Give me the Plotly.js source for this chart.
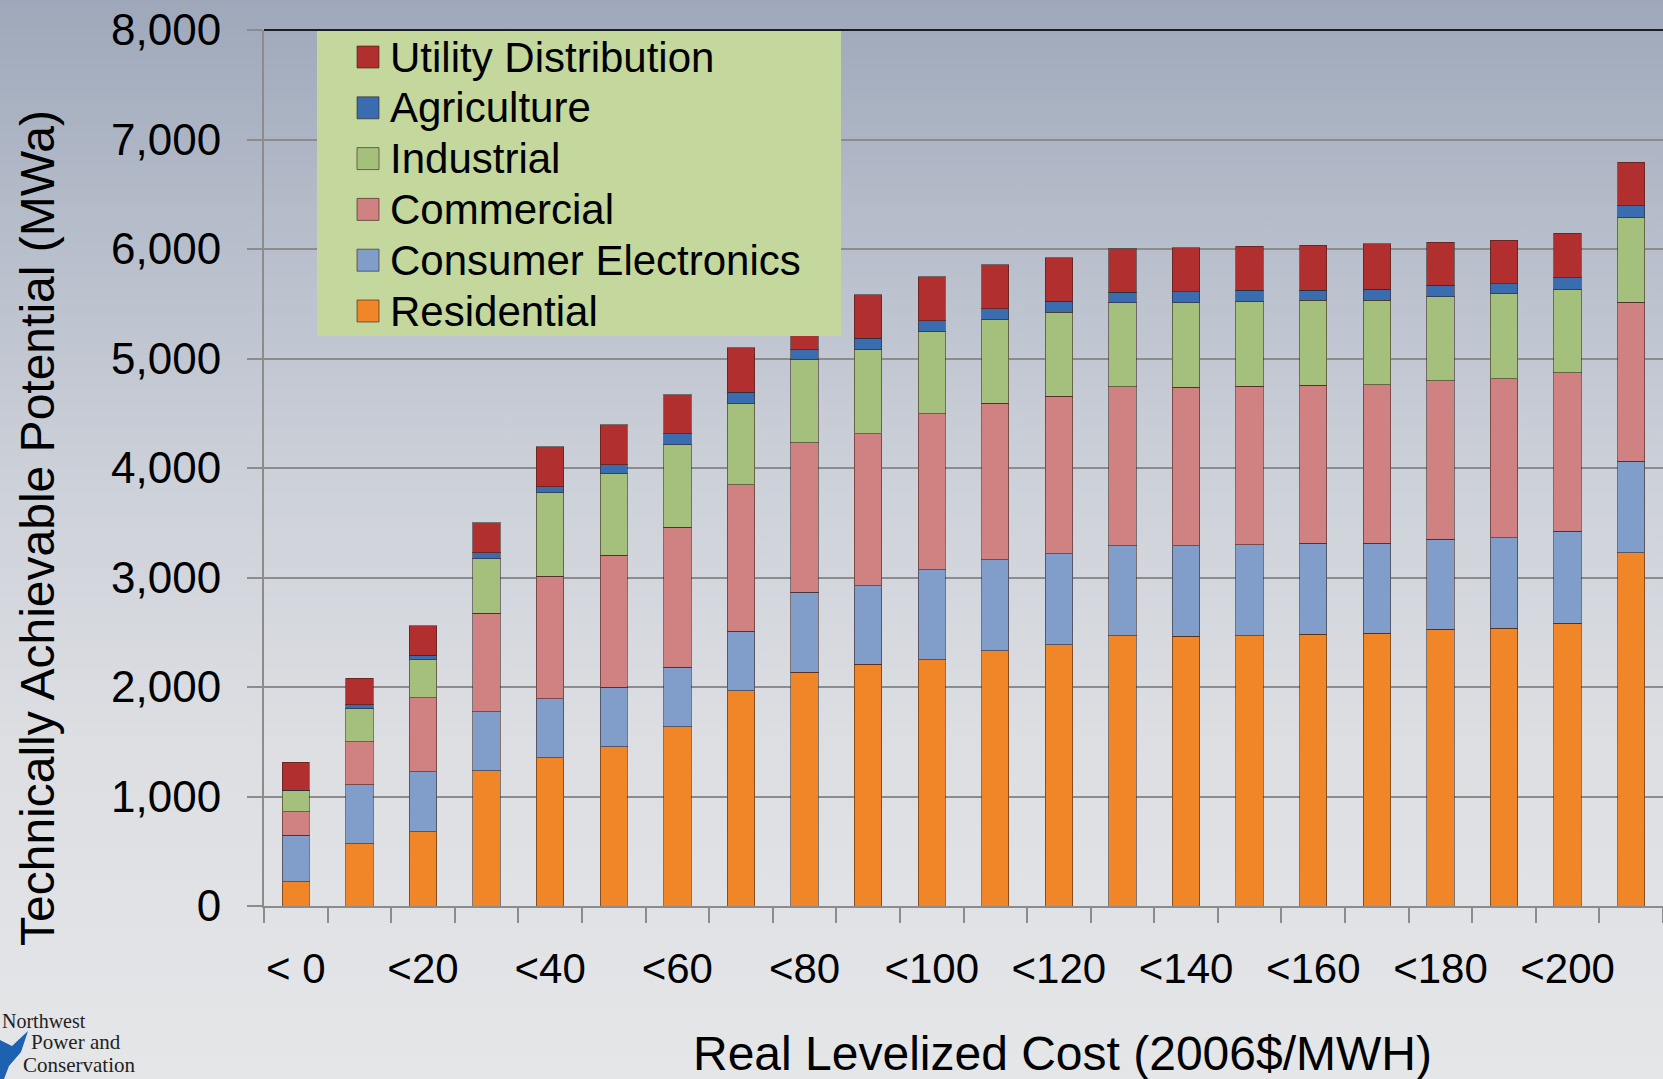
<!DOCTYPE html>
<html>
<head>
<meta charset="utf-8">
<script src="https://cdn.plot.ly/plotly-3.0.1.min.js"></script>
<style>
  html, body { margin: 0; padding: 0; }
  #chart {
    width: 1663px; height: 1079px;
    background: linear-gradient(to bottom, #9ea8ba 0%, #b7becb 22%, #cdd1d9 45%, #dcdee2 68%, #e5e6e8 100%);
  }
</style>
</head>
<body>
<div id="chart"></div>
<script>
// ---- data (MWa) ----
const categories = ['< 0','<10','<20','<30','<40','<50','<60','<70','<80','<90','<100','<110','<120','<130','<140','<150','<160','<170','<180','<190','<200','>200'];
const xTickLabels = ['< 0','','<20','','<40','','<60','','<80','','<100','','<120','','<140','','<160','','<180','','<200',''];
const residential = [220, 570, 676, 1237, 1356, 1456, 1639, 1965, 2133, 2209, 2249, 2331, 2386, 2468, 2464, 2470, 2482, 2491, 2527, 2536, 2582, 3227];
const consumerElectronics = [426, 536, 552, 536, 539, 543, 543, 542, 731, 716, 822, 832, 831, 823, 826, 831, 829, 820, 823, 827, 839, 833];
const commercial = [216, 396, 676, 902, 1115, 1203, 1276, 1341, 1365, 1389, 1426, 1428, 1438, 1450, 1448, 1444, 1444, 1450, 1447, 1450, 1448, 1454];
const industrial = [189, 299, 345, 494, 762, 747, 756, 741, 762, 768, 753, 765, 768, 768, 773, 776, 779, 773, 769, 780, 763, 773];
const agriculture = [5, 36, 43, 55, 55, 82, 100, 103, 91, 101, 97, 98, 98, 97, 98, 101, 91, 98, 101, 91, 104, 107];
const utilityDistribution = [256, 244, 267, 274, 366, 363, 354, 406, 360, 399, 400, 402, 399, 397, 401, 404, 411, 414, 395, 397, 407, 398];

const seriesNames = ['Residential', 'Consumer Electronics', 'Commercial', 'Industrial', 'Agriculture', 'Utility Distribution'];
const seriesValues = [residential, consumerElectronics, commercial, industrial, agriculture, utilityDistribution];
const seriesColors = ['#f08628', '#819dca', '#d08282', '#a5bf7c', '#3a6db0', '#b22f2f'];

const FONT = 'Liberation Sans, Arial, sans-serif';

const traces = seriesNames.map((name, i) => ({
  type: 'bar',
  name: name,
  x: categories,
  y: seriesValues[i],
  marker: { color: seriesColors[i], line: { color: 'rgba(50,30,25,0.55)', width: 1 } },
  showlegend: false,
  hovertemplate: '%{x}: %{y:,} MWa<extra>' + name + '</extra>'
}));

// pixel -> paper helpers (plot area: x 264..1663, y 30..906)
const L = 264, R = 1663, T = 30, B = 906;
const px = v => (v - L) / (R - L);
const py = v => (B - v) / (B - T);

const shapes = [];
const annotations = [];

// top frame line
shapes.push({ type: 'line', xref: 'paper', yref: 'paper', x0: 0, x1: 1, y0: 1, y1: 1, line: { color: '#1e1e1e', width: 2 } });

// legend box
shapes.push({ type: 'rect', xref: 'paper', yref: 'paper', x0: px(317), x1: px(841), y0: py(336), y1: py(31), fillcolor: '#c4d79c', line: { width: 0 }, layer: 'above' });
const legendOrder = [5, 4, 3, 2, 1, 0];
legendOrder.forEach((si, k) => {
  const cy = 57 + k * 50.8;
  shapes.push({ type: 'rect', xref: 'paper', yref: 'paper', x0: px(357), x1: px(379), y0: py(cy + 11), y1: py(cy - 11),
    fillcolor: seriesColors[si], line: { color: 'rgba(50,30,25,0.6)', width: 1 }, layer: 'above' });
  annotations.push({ xref: 'paper', yref: 'paper', x: px(388), y: py(cy), xanchor: 'left', yanchor: 'middle',
    text: seriesNames[si], showarrow: false, font: { family: FONT, size: 42, color: '#000' } });
});

// axis titles
annotations.push({ xref: 'paper', yref: 'paper', x: px(37), y: py(528), xanchor: 'center', yanchor: 'middle', textangle: -90,
  text: 'Technically Achievable Potential (MWa)', showarrow: false, font: { family: FONT, size: 48, color: '#000' } });
annotations.push({ xref: 'paper', yref: 'paper', x: px(1062), y: py(1053), xanchor: 'center', yanchor: 'middle',
  text: 'Real Levelized Cost (2006$/MWH)', showarrow: false, font: { family: FONT, size: 48, color: '#000' } });

// logo text
const SERIF = 'Liberation Serif, Times New Roman, serif';
annotations.push({ xref: 'paper', yref: 'paper', x: px(0), y: py(1021), xanchor: 'left', yanchor: 'middle', text: 'Northwest', showarrow: false, font: { family: SERIF, size: 20, color: '#222' } });
annotations.push({ xref: 'paper', yref: 'paper', x: px(29), y: py(1042), xanchor: 'left', yanchor: 'middle', text: 'Power and', showarrow: false, font: { family: SERIF, size: 21, color: '#222' } });
annotations.push({ xref: 'paper', yref: 'paper', x: px(21), y: py(1065), xanchor: 'left', yanchor: 'middle', text: 'Conservation', showarrow: false, font: { family: SERIF, size: 21, color: '#222' } });
const birdPts = [[0,1040],[12,1046],[28,1031],[21,1052],[9,1066],[4,1079],[0,1079]];
shapes.push({ type: 'path', xref: 'paper', yref: 'paper', fillcolor: '#1d62b0', line: { width: 0 },
  path: 'M' + birdPts.map(p => px(p[0]) + ',' + py(p[1])).join('L') + 'Z' });

const layout = {
  width: 1663, height: 1079,
  margin: { l: L, r: 1663 - R, t: T, b: 1079 - B, pad: 0 },
  paper_bgcolor: 'rgba(0,0,0,0)',
  plot_bgcolor: 'rgba(0,0,0,0)',
  barmode: 'stack',
  bargap: 0.57,
  font: { family: FONT, color: '#000' },
  xaxis: {
    type: 'category',
    range: [-0.5, 21.5],
    tickmode: 'array', tickvals: categories, ticktext: xTickLabels,
    tickson: 'boundaries',
    tickangle: 0,
    ticks: 'outside', ticklen: 15, tickwidth: 2, tickcolor: '#8c8c8c',
    showline: true, linecolor: '#8c8c8c', linewidth: 2,
    showgrid: false,
    tickfont: { family: FONT, size: 42, color: '#000' },
    ticklabelstandoff: 25
  },
  yaxis: {
    range: [0, 8000], dtick: 1000, tickformat: ',d',
    ticks: 'outside', ticklen: 15, tickwidth: 2, tickcolor: '#8c8c8c',
    showline: true, linecolor: '#8c8c8c', linewidth: 2,
    showgrid: true, gridcolor: '#8c8c8c', gridwidth: 2,
    zeroline: false,
    tickfont: { family: FONT, size: 44, color: '#000' },
    ticklabelstandoff: 17
  },
  shapes: shapes,
  annotations: annotations
};

Plotly.newPlot('chart', traces, layout, { displayModeBar: false, staticPlot: true });
</script>
</body>
</html>
